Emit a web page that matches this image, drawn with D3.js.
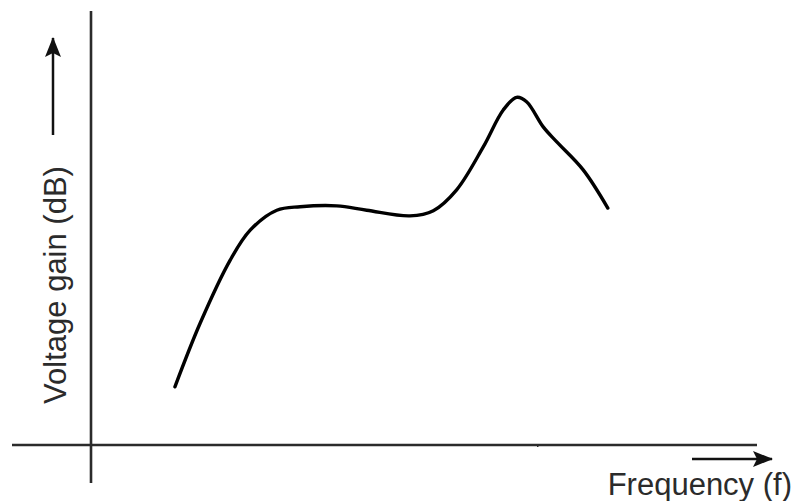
<!DOCTYPE html>
<html lang="en">
<head>
<meta charset="UTF-8">
<title>Voltage gain vs frequency</title>
<script src="https://d3js.org/d3.v7.min.js"></script>
<style>
html, body { margin: 0; padding: 0; background: white; }
body { font-family: 'Liberation Sans', Arial, sans-serif; }
.axis-line { stroke: #2b2b2b; stroke-width: 2.6px; fill: none; }
.curve { stroke: #000; stroke-width: 3.4px; fill: none; stroke-linecap: round; stroke-linejoin: round; }
.label { font-size: 31px; fill: #2b2b2b; }
.arrow { stroke: #111; stroke-width: 2.5px; fill: none; }
.x-axis path { stroke: none; }
.x-axis line { stroke: #2b2b2b; stroke-width: 1.5px; }
</style>
</head>
<body>
<div id="chart"></div>
<script>

// --------------------------------------
// Data (arbitrary units, axes have no scale)
// --------------------------------------
var freq = [12.6, 16.4, 20.9, 23.9, 27.9, 31.4, 36.9, 41.4, 47.9, 51.4, 54.9, 58.9, 61.9, 63.9, 65.4, 67.9, 69.9, 73.9, 77.6];
var gain = [13.4, 28.1, 42.6, 49.5, 54.1, 54.9, 55.1, 54.1, 52.8, 54.0, 58.8, 68.7, 77.2, 80.1, 79.1, 73.3, 69.9, 63.4, 54.6];
var xTicks = [67];
var xLabel = "Frequency (f)";
var yLabel = "Voltage gain (dB)";

var data = freq.map((f, i) => ({f: f, g: gain[i]}));

// --------------------------------------
// Size
// --------------------------------------
var totalWidth = 794;
var totalHeight = 501;

var svg = d3.select("#chart")
  .append("svg")
  .attr("width", totalWidth)
  .attr("height", totalHeight);

// arrow head, drawn at its own size
svg.append("defs").append("marker")
  .attr("id", "head")
  .attr("viewBox", "0 0 20 18")
  .attr("refX", 19)
  .attr("refY", 9)
  .attr("markerWidth", 20)
  .attr("markerHeight", 18)
  .attr("markerUnits", "userSpaceOnUse")
  .attr("orient", "auto")
  .append("path")
  .attr("d", "M0,1 L20,9 L0,17 L4,9 Z")
  .attr("fill", "#111");

// --------------------------------------
// Scales
// --------------------------------------
var xscale = d3.scaleLinear().domain([0, 100]).range([91, 757]);
var yscale = d3.scaleLinear().domain([0, 100]).range([445, 11]);

// --------------------------------------
// Axes
// --------------------------------------
svg.append("line")
  .attr("class", "axis-line")
  .attr("x1", 12).attr("x2", 757)
  .attr("y1", yscale(0)).attr("y2", yscale(0));

svg.append("line")
  .attr("class", "axis-line")
  .attr("x1", xscale(0)).attr("x2", xscale(0))
  .attr("y1", 11).attr("y2", 483);

svg.append("g")
  .attr("class", "x-axis")
  .attr("transform", `translate(0,${yscale(0)})`)
  .call(d3.axisBottom(xscale).tickValues(xTicks).tickSize(2).tickFormat(""));

// --------------------------------------
// Curve
// --------------------------------------
var line = d3.line()
  .curve(d3.curveCatmullRom.alpha(0.5))
  .x(d => xscale(d.f))
  .y(d => yscale(d.g));

svg.append("path")
  .datum(data)
  .attr("class", "curve")
  .attr("d", line);

// --------------------------------------
// Labels and arrows
// --------------------------------------
svg.append("text")
  .attr("class", "label")
  .attr("transform", "translate(66,285) rotate(-90)")
  .attr("text-anchor", "middle")
  .text(yLabel);

svg.append("line")
  .attr("class", "arrow")
  .attr("x1", 53).attr("x2", 53)
  .attr("y1", 135).attr("y2", 38)
  .attr("marker-end", "url(#head)");

svg.append("text")
  .attr("class", "label")
  .attr("x", 792)
  .attr("y", 495)
  .attr("text-anchor", "end")
  .text(xLabel);

svg.append("line")
  .attr("class", "arrow")
  .attr("x1", 692).attr("x2", 772)
  .attr("y1", 459).attr("y2", 459)
  .attr("marker-end", "url(#head)");

</script>
</body>
</html>
